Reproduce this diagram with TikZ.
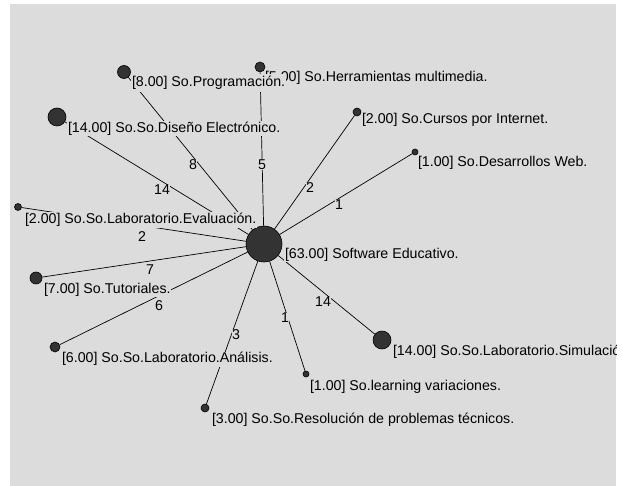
\documentclass[tikz,border=0pt]{standalone}
\usepackage{fontspec}
\setmainfont{Liberation Sans}
\usetikzlibrary{backgrounds}
\definecolor{bg}{HTML}{DCDCDC}
\definecolor{dotc}{HTML}{333333}
\begin{document}
\begin{tikzpicture}[x=1pt,y=-1pt,
  dot/.style={circle,fill=dotc,draw=black,line width=0.6pt,inner sep=0pt,minimum size=#1},
  lab/.style={anchor=west,fill=bg,inner sep=0.8pt,font=\fontsize{14.2}{16}\selectfont},
  wlab/.style={fill=bg,inner sep=0.4pt,font=\fontsize{14.2}{16}\selectfont},
  edgeline/.style={draw=black,line width=0.7pt}]
\useasboundingbox (0,0) rectangle (623,486);
\begin{scope}
\clip (10,4) rectangle (616,486);
% dots
\node[dot=36pt] (c) at (264,244) {};
\node[dot=13pt] (p) at (124,72) {};
\node[dot=10pt] (h) at (260,67) {};
\node[dot=18pt] (d) at (57,117) {};
\node[dot=8pt] (cu) at (357,112) {};
\node[dot=6pt] (w) at (415,152) {};
\node[dot=7pt] (ev) at (18,207) {};
\node[dot=12pt] (t) at (36,278) {};
\node[dot=10pt] (an) at (55,347) {};
\node[dot=8pt] (r) at (205,408) {};
\node[dot=6pt] (l) at (306,374) {};
\node[dot=18pt] (s) at (382,340) {};
% edge weights
\node[wlab] (wp) at (193,165) {8};
\node[wlab] (wh) at (262,165) {5};
\node[wlab] (wd) at (162,190) {14};
\node[wlab] (wcu) at (310,188) {2};
\node[wlab] (ww) at (339,205) {1};
\node[wlab] (wev) at (142,237) {2};
\node[wlab] (wt) at (150,270) {7};
\node[wlab] (wan) at (159,306) {6};
\node[wlab] (wr) at (236,335) {3};
\node[wlab] (wl) at (285,318) {1};
\node[wlab] (ws) at (323,302) {14};
% labels
\node[lab] (lc) at (284,255) {[63.00] Software Educativo.};
\node[lab] (lh) at (264,78) {[5.00] So.Herramientas multimedia.};
\node[lab,inner ysep=2.6pt] (lp) at (131,83) {[8.00] So.Programación.};
\node[lab] (ld) at (67,129) {[14.00] So.So.Diseño Electrónico.};
\node[lab] (lcu) at (361,120) {[2.00] So.Cursos por Internet.};
\node[lab] (lw) at (417,163) {[1.00] So.Desarrollos Web.};
\node[lab] (lev) at (24,220) {[2.00] So.So.Laboratorio.Evaluación.};
\node[lab] (lt) at (43,290) {[7.00] So.Tutoriales.};
\node[lab] (lan) at (61,359) {[6.00] So.So.Laboratorio.Análisis.};
\node[lab] (ll) at (309,387) {[1.00] So.learning variaciones.};
\node[lab] (lr) at (211,420) {[3.00] So.So.Resolución de problemas técnicos.};
\node[lab] (ls) at (392,352) {[14.00] So.So.Laboratorio.Simulación.};
\end{scope}
\begin{pgfonlayer}{background}
\fill[white] (0,0) rectangle (623,486);
\fill[bg] (10,4) rectangle (616,486);
\foreach \n in {p,h,d,cu,w,ev,t,an,r,l,s}
  \draw[edgeline] (c) -- (\n);
\end{pgfonlayer}
\end{tikzpicture}
\end{document}
